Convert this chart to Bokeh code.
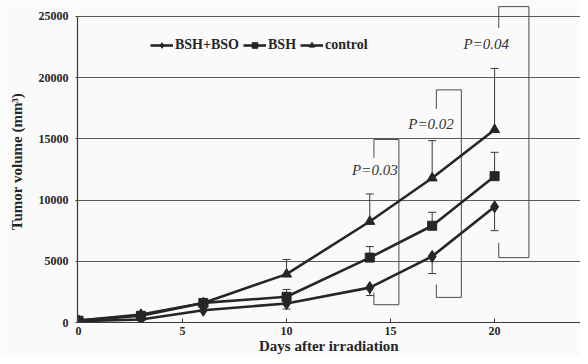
from bokeh.plotting import figure
from bokeh.models import FixedTicker, Legend, LegendItem, Range1d
from bokeh.core.properties import value
from bokeh.embed import file_html
from bokeh.resources import INLINE

# ---- data ----
days = [0, 3, 6, 10, 14, 17, 20]
bsh_bso = [100, 250, 1000, 1550, 2850, 5400, 9450]
bsh = [150, 550, 1600, 2100, 5300, 7900, 11950]
control = [150, 650, 1600, 3950, 8250, 11800, 15750]

err_days = [10, 14, 17, 20]
control_upper = [5150, 10500, 14850, 20750]
bsh_upper = [2700, 6200, 9000, 13900]
bsh_bso_lower = [1100, 2200, 4000, 7500]

p_labels = ["P=0.03", "P=0.02", "P=0.04"]
p_label_x = [13.15, 15.85, 18.5]
p_label_y = [12450, 16200, 22750]

# brackets: left x, right x, top y, bottom y, left-top drop, left-bottom rise
br_left = [14.2, 17.2, 20.2]
br_right = [15.4, 18.4, 21.65]
br_top = [14950, 19000, 25800]
br_bottom = [1450, 2050, 5300]
br_drop = [13450, 17450, 24050]
br_rise = [2450, 3100, 6500]

x_ticks = [0, 5, 10, 15, 20]
y_ticks = [0, 5000, 10000, 15000, 20000, 25000]

serif = "Liberation Serif"
ink = "#262626"

p = figure(width=580, height=356, output_backend="svg", toolbar_location=None,
           x_range=Range1d(-0.05, 24.13), y_range=Range1d(0, 26300),
           min_border_left=77, min_border_right=0, min_border_top=0, min_border_bottom=33,
           background_fill_color="#fafafa", border_fill_color="#fafafa")
p.outline_line_color = None
p.xgrid.visible = False
p.ygrid.ticker = FixedTicker(ticks=y_ticks)
p.ygrid.grid_line_color = "#5a5a5a"
p.ygrid.grid_line_width = 1

p.xaxis.ticker = FixedTicker(ticks=x_ticks)
p.yaxis.ticker = FixedTicker(ticks=y_ticks)
for ax in (p.xaxis, p.yaxis):
    ax.axis_line_color = "#3a3a3a"
    ax.axis_line_width = 1.2
    ax.major_tick_line_color = "#3a3a3a"
    ax.minor_tick_line_color = None
    ax.major_label_text_font = serif
    ax.major_label_text_font_style = "bold"
    ax.major_label_text_font_size = "12px"
    ax.major_label_text_color = ink
    ax.axis_label_text_font = serif
    ax.axis_label_text_font_style = "bold"
    ax.axis_label_text_font_size = "15px"
    ax.axis_label_text_color = ink
p.xaxis.major_tick_in = 4
p.xaxis.major_tick_out = 0
p.xaxis.major_label_standoff = 4
p.xaxis.axis_label_standoff = 0
p.xaxis.axis_label = "Days after irradiation"
p.yaxis.major_tick_in = 0
p.yaxis.major_tick_out = 2
p.yaxis.major_label_standoff = 7
p.yaxis.axis_label_standoff = 11
p.yaxis.axis_label = "Tumor volume (mm³)"
p.yaxis.bounds = (0, 25000)

# brackets
bx, by = [], []
for xl, xr, yt, yb, yd, yr in zip(br_left, br_right, br_top, br_bottom, br_drop, br_rise):
    bx.append([xl, xl, xr, xr, xl, xl])
    by.append([yd, yt, yt, yb, yb, yr])
p.multi_line(bx, by, line_color="#4a4a4a", line_width=1)

# error bars
def sel(vals):
    return [v for d, v in zip(days, vals) if d in err_days]

for mid, end in ((sel(control), control_upper), (sel(bsh), bsh_upper), (sel(bsh_bso), bsh_bso_lower)):
    p.segment(err_days, mid, err_days, end, line_color="#3a3a3a", line_width=1)
    p.scatter(err_days, end, marker="dash", size=8, line_color="#3a3a3a", line_width=1)

# series
series = [("BSH+BSO", bsh_bso, "diamond", 12), ("BSH", bsh, "square", 9), ("control", control, "triangle", 10)]
items = []
for name, vals, mk, sz in series:
    ln = p.line(days, vals, line_color=ink, line_width=2.6)
    sc = p.scatter(days, vals, marker=mk, size=sz, fill_color=ink, line_color=ink)
    items.append(LegendItem(label=name, renderers=[ln, sc]))

legend = Legend(items=items, orientation="horizontal", location=(73, 269),
                glyph_width=23, glyph_height=14, label_height=14, label_standoff=2, spacing=4,
                padding=0, margin=0, border_line_color=None, background_fill_alpha=0,
                label_text_font=serif, label_text_font_style="bold",
                label_text_font_size="14px", label_text_color=ink)
p.add_layout(legend, "center")

p.text(p_label_x, p_label_y, text=p_labels, text_font=value(serif), text_font_style="italic",
       text_font_size="15px", text_color="#333333", text_baseline="middle", text_align="left")

open("out.html", "w").write(file_html(p, INLINE))
